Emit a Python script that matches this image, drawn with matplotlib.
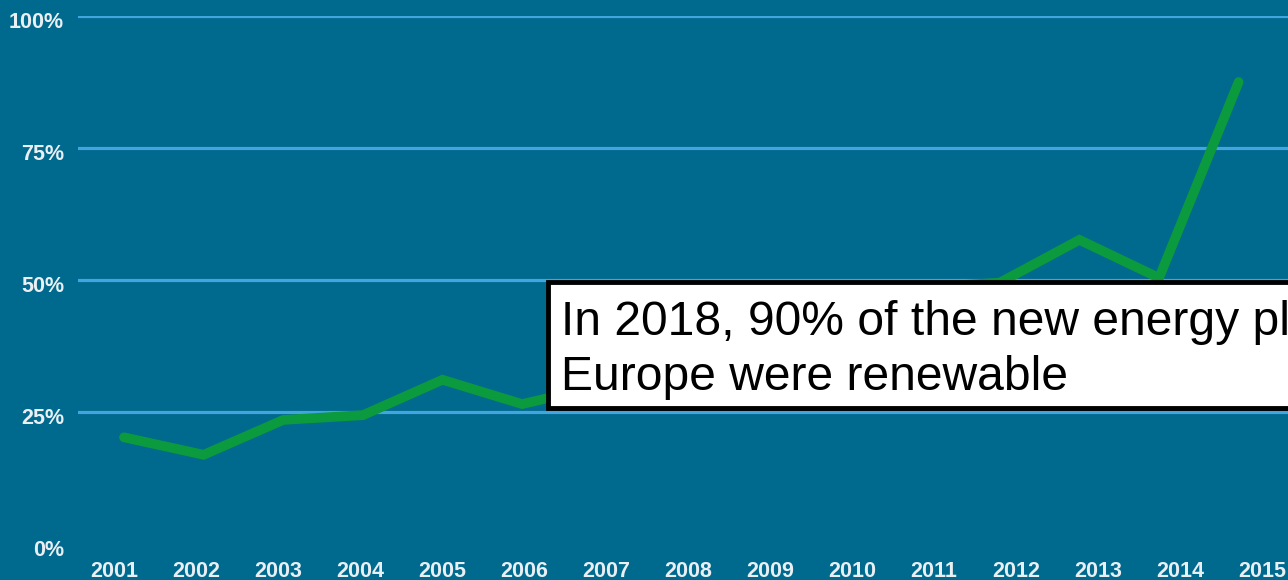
import matplotlib
matplotlib.use("Agg")
import matplotlib.pyplot as plt
import matplotlib.transforms as mtransforms
from matplotlib.patches import Rectangle

plt.rcParams['font.family'] = ['Liberation Sans', 'DejaVu Sans']

# data (share of new capacity that was renewable, %)
years = [2001, 2002, 2003, 2004, 2005, 2006, 2007, 2008,
         2009, 2010, 2011, 2012, 2013, 2014, 2015]
share = [20.2, 16.9, 23.5, 24.4, 31.1, 26.5, 30.0, 33.0,
         37.0, 42.0, 48.5, 49.5, 57.6, 50.4, 87.5]
y_ticks = [0, 25, 50, 75, 100]
y_labels = ['0%', '25%', '50%', '75%', '100%']
note = ["In 2018, 90% of the new energy plants in", "Europe were renewable"]

bg = '#00698e'
grid_col = '#42a5de'
txt_col = '#e9eff3'
green = '#0b9a3d'

fig = plt.figure(figsize=(12.88, 5.8), dpi=100)
fig.patch.set_facecolor(bg)
ax = fig.add_axes([78 / 1288, 36 / 580, 1210 / 1288, 528 / 580])
ax.set_facecolor(bg)

idx = list(range(len(years)))
ax.plot(idx, share, color=green, lw=7, solid_capstyle='round',
        solid_joinstyle='miter', zorder=3)

ax.set_xlim(-0.578, 14.62)
ax.set_ylim(0, 100)
ax.set_yticks(y_ticks)
ax.set_yticklabels(y_labels)
ax.yaxis.grid(True, color=grid_col, lw=2.3)
ax.yaxis.get_gridlines()[0].set_visible(False)
ax.set_axisbelow(True)
ax.tick_params(axis='y', length=0, pad=10, labelcolor=txt_col, labelsize=15.5)
ax.set_xticks([])
for lab in ax.get_yticklabels():
    lab.set_fontweight('bold')
    lab.set_transform(lab.get_transform() +
                      mtransforms.ScaledTranslation(0, -4 / 100, fig.dpi_scale_trans))
for s in ax.spines.values():
    s.set_visible(False)

# year labels
ax2 = ax.twiny()
ax2.set_xlim(2000.561, 2015.317)
ax2.xaxis.set_ticks_position('bottom')
ax2.set_xticks(years)
ax2.set_xticklabels([str(y) for y in years], fontweight='bold')
ax2.tick_params(axis='x', length=0, pad=12, labelcolor=txt_col, labelsize=15.5)
for s in ax2.spines.values():
    s.set_visible(False)

# annotation box
box = Rectangle((548 / 1288, (580 - 408) / 580), 0.7, 126 / 580,
                transform=fig.transFigure, facecolor='white',
                edgecolor='black', lw=3.5, zorder=10)
fig.add_artist(box)
fig.text(561 / 1288, (580 - 335) / 580, note[0], fontsize=34.6, color='black',
         va='baseline', ha='left', zorder=11)
fig.text(561 / 1288, (580 - 390) / 580, note[1], fontsize=34.6, color='black',
         va='baseline', ha='left', zorder=11)

fig.savefig('out.png', dpi=100, facecolor=bg)
